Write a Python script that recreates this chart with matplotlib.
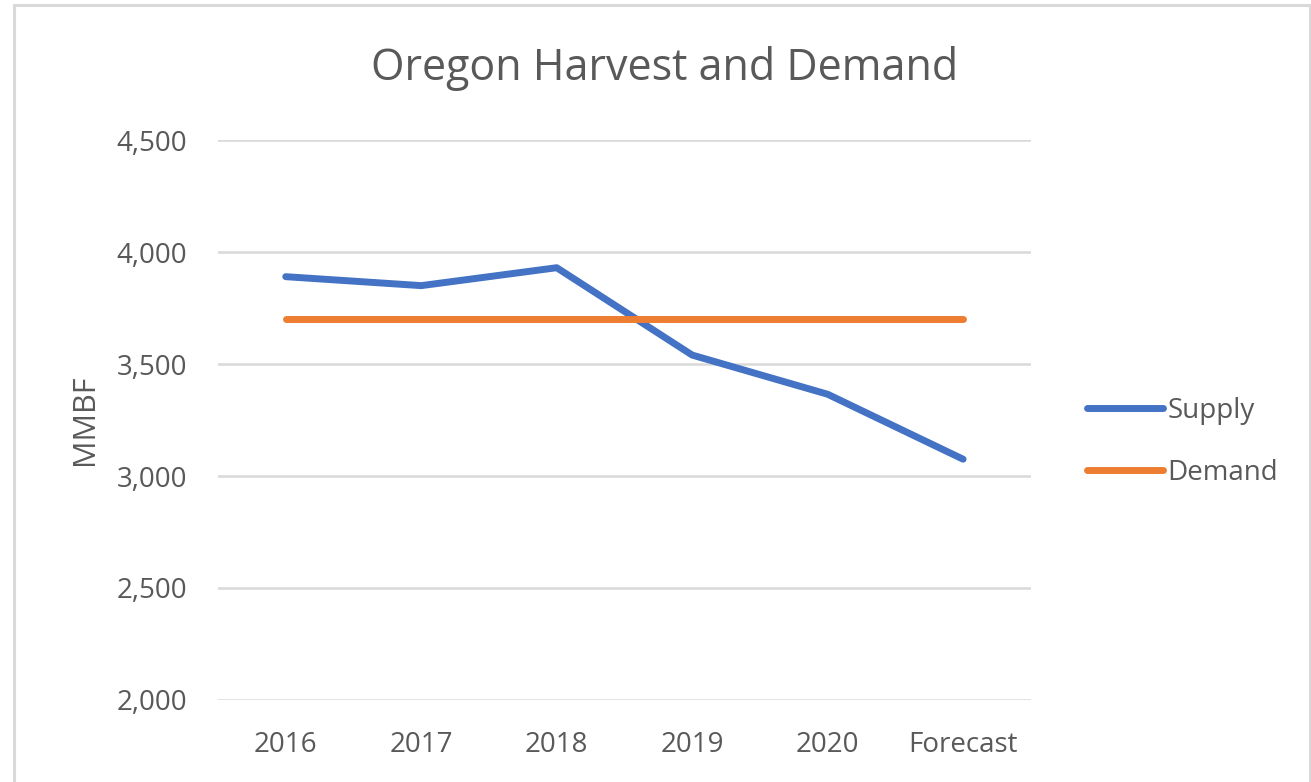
import matplotlib
matplotlib.use("Agg")
import matplotlib.pyplot as plt
from matplotlib.lines import Line2D
from matplotlib.patches import Rectangle
from matplotlib.ticker import FuncFormatter

plt.rcParams.update({"font.family": ["Open Sans", "DejaVu Sans"], "text.color": "#595959",
                     "xtick.color": "#595959", "ytick.color": "#595959"})

categories = ["2016", "2017", "2018", "2019", "2020", "Forecast"]
supply = [3890, 3850, 3930, 3540, 3365, 3075]
demand = [3700, 3700, 3700, 3700, 3700, 3700]

C_BLUE = "#4472C4"; C_ORANGE = "#ED7D31"; C_GRID = "#D9D9D9"; C_TXT = "#595959"

fig = plt.figure(figsize=(13.11, 7.82), dpi=100)
fig.patches.append(Rectangle((0.011, -0.01), 0.988, 1.003, transform=fig.transFigure,
                             fill=False, ec="#D9D9D9", lw=2.2))
ax = fig.add_axes([0.1663, 0.1049, 0.620, 0.716])

x = range(len(categories))
ax.plot(x, supply, color=C_BLUE, lw=5, solid_capstyle="round", label="Supply")
ax.plot(x, demand, color=C_ORANGE, lw=5, solid_capstyle="round", label="Demand")

ax.set_xlim(-0.5, len(categories) - 0.5)
ax.set_ylim(2000, 4500)
ax.set_yticks([2000, 2500, 3000, 3500, 4000, 4500])
ax.yaxis.set_major_formatter(FuncFormatter(lambda v, p: f"{v:,.0f}"))
ax.set_xticks(list(x))
ax.set_xticklabels(categories)
ax.tick_params(axis="both", length=0, labelsize=20)
ax.tick_params(axis="y", pad=22)
ax.tick_params(axis="x", pad=22)
ax.grid(axis="y", color=C_GRID, lw=1.8)
ax.set_axisbelow(True)
for s in ax.spines.values():
    s.set_visible(False)

ax.set_ylabel("MMBF", fontsize=22, color=C_TXT, labelpad=12)
fig.text(0.507, 0.912, "Oregon Harvest and Demand", ha="center", va="center",
         fontsize=31, color=C_TXT)

handles = [Line2D([], [], color=C_BLUE, lw=5, solid_capstyle="round"),
           Line2D([], [], color=C_ORANGE, lw=5, solid_capstyle="round")]
fig.legend(handles, ["Supply", "Demand"], loc="center left", bbox_to_anchor=(0.810, 0.435),
           frameon=False, fontsize=20, handlelength=2.74, handletextpad=0.15,
           labelspacing=1.22, labelcolor=C_TXT)

fig.savefig("out.png", dpi=100, facecolor="white")
